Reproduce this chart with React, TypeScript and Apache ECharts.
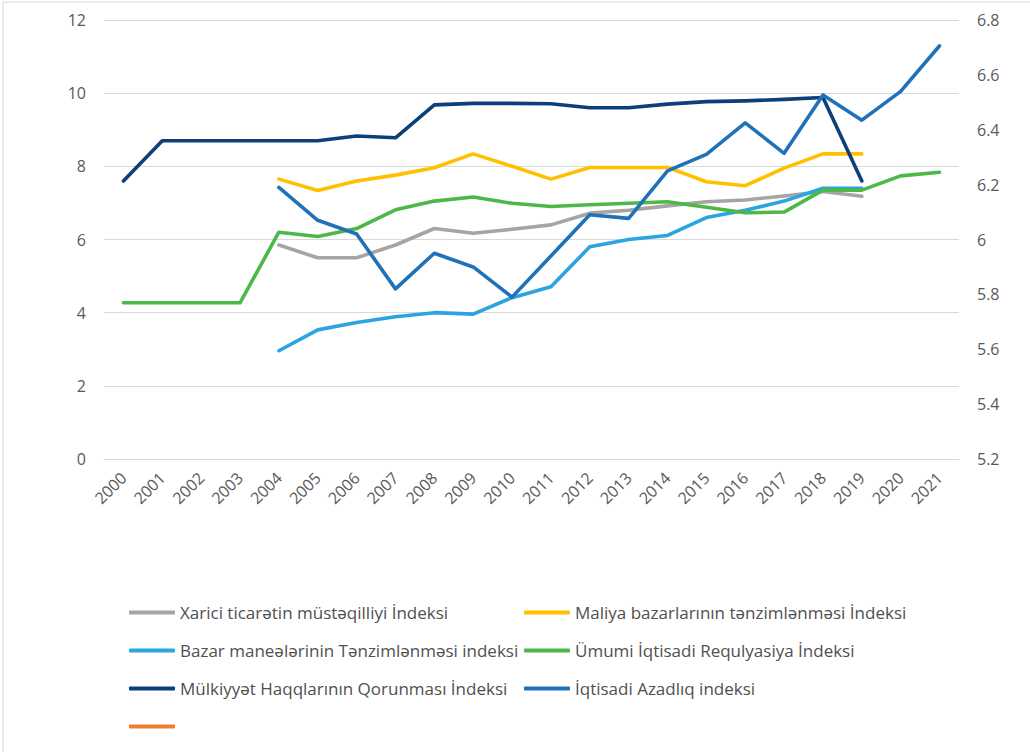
import React, { useEffect, useRef } from "react";
import * as echarts from "echarts";

const years = ["2000","2001","2002","2003","2004","2005","2006","2007","2008","2009","2010","2011","2012","2013","2014","2015","2016","2017","2018","2019","2020","2021"];

const xarici = [null,null,null,null,5.85,5.5,5.5,5.85,6.3,6.17,6.28,6.4,6.72,6.8,6.92,7.03,7.08,7.19,7.31,7.18,null,null];
const maliyye = [null,null,null,null,7.65,7.34,7.6,7.76,7.96,8.34,8.0,7.65,7.97,7.97,7.97,7.58,7.47,7.95,8.34,8.34,null,null];
const bazar = [null,null,null,null,2.96,3.53,3.73,3.89,4.0,3.96,4.41,4.71,5.8,6.0,6.11,6.6,6.8,7.05,7.4,7.4,null,null];
const umumi = [4.27,4.27,4.27,4.27,6.2,6.08,6.3,6.81,7.05,7.16,6.99,6.9,6.95,6.99,7.03,6.88,6.73,6.75,7.35,7.35,7.74,7.84];
const mulkiyyet = [7.6,8.7,8.7,8.7,8.7,8.7,8.83,8.78,9.68,9.72,9.72,9.71,9.6,9.6,9.7,9.77,9.79,9.83,9.88,7.6,null,null];
const azadliq = [null,null,null,null,6.19,6.07,6.02,5.82,5.95,5.9,5.79,5.94,6.09,6.077,6.25,6.31,6.425,6.314,6.527,6.435,6.54,6.706];

const leftTicks = { min: 0, max: 12, interval: 2 };
const rightTicks = { min: 5.2, max: 6.8, interval: 0.2 };

const names = {
  xarici: "Xarici ticarətin müstəqilliyi İndeksi",
  maliyye: "Maliya bazarlarının tənzimlənməsi İndeksi",
  bazar: "Bazar maneələrinin Tənzimlənməsi indeksi",
  umumi: "Ümumi İqtisadi Requlyasiya İndeksi",
  mulkiyyet: "Mülkiyyət Haqqlarının Qorunması İndeksi",
  azadliq: "İqtisadi Azadlıq indeksi",
  bos: " ",
};

const FONT = "'Open Sans', 'DejaVu Sans', sans-serif";

export default function App() {
  const ref = useRef<HTMLDivElement>(null);
  useEffect(() => {
    if (!ref.current) return;
    const chart = echarts.init(ref.current, null, { renderer: "svg" });
    const line = (name: string, data: any[], color: string, yAxisIndex = 0) => ({
      name,
      type: "line",
      data,
      yAxisIndex,
      symbol: "none",
      connectNulls: false,
      lineStyle: { color, width: 3.6, cap: "round", join: "round" },
      itemStyle: { color },
    });
    const legendCommon = {
      orient: "vertical",
      icon: "roundRect",
      itemWidth: 46,
      itemHeight: 4,
      itemGap: 17,
      textStyle: { color: "#505050", fontSize: 17, fontFamily: FONT, lineHeight: 21 },
      selectedMode: false,
    };
    chart.setOption({
      animation: false,
      backgroundColor: "#ffffff",
      textStyle: { fontFamily: FONT },
      grid: { left: 104, right: 71, top: 20, bottom: 293, containLabel: false },
      graphic: [
        { type: "rect", shape: { x: 3, y: 2, width: 1100, height: 800 }, style: { fill: "none", stroke: "#d9d9d9", lineWidth: 1 }, silent: true },
      ],
      legend: [
        { ...legendCommon, left: 124, top: 597, data: [names.xarici, names.bazar, names.mulkiyyet, names.bos] },
        { ...legendCommon, left: 519, top: 597, data: [names.maliyye, names.umumi, names.azadliq] },
      ],
      xAxis: {
        type: "category",
        data: years,
        boundaryGap: true,
        axisLine: { show: true, lineStyle: { color: "#d9d9d9", width: 1 } },
        axisTick: { show: false },
        axisLabel: { rotate: 45, color: "#595959", fontSize: 16, margin: 16, interval: 0, fontFamily: FONT },
      },
      yAxis: [
        {
          type: "value",
          ...leftTicks,
          axisLine: { show: false },
          axisTick: { show: false },
          axisLabel: { color: "#595959", fontSize: 16, margin: 18, fontFamily: FONT },
          splitLine: { lineStyle: { color: "#d9d9d9", width: 1 } },
        },
        {
          type: "value",
          ...rightTicks,
          position: "right",
          axisLine: { show: false },
          axisTick: { show: false },
          axisLabel: { color: "#595959", fontSize: 16, margin: 18, fontFamily: FONT, formatter: (v: number) => String(Math.round(v * 10) / 10) },
          splitLine: { show: false },
        },
      ],
      series: [
        line(names.xarici, xarici, "#A5A5A5"),
        line(names.maliyye, maliyye, "#FFC000"),
        line(names.bazar, bazar, "#2BA4DF"),
        line(names.umumi, umumi, "#4DB848"),
        line(names.mulkiyyet, mulkiyyet, "#0D3F7A"),
        line(names.azadliq, azadliq, "#1F72BA", 1),
        line(names.bos, [], "#ED7D31"),
      ],
    });
    return () => chart.dispose();
  }, []);
  return <div ref={ref} style={{ width: 1030, height: 752, position: "absolute", left: 0, top: 0 }} />;
}
